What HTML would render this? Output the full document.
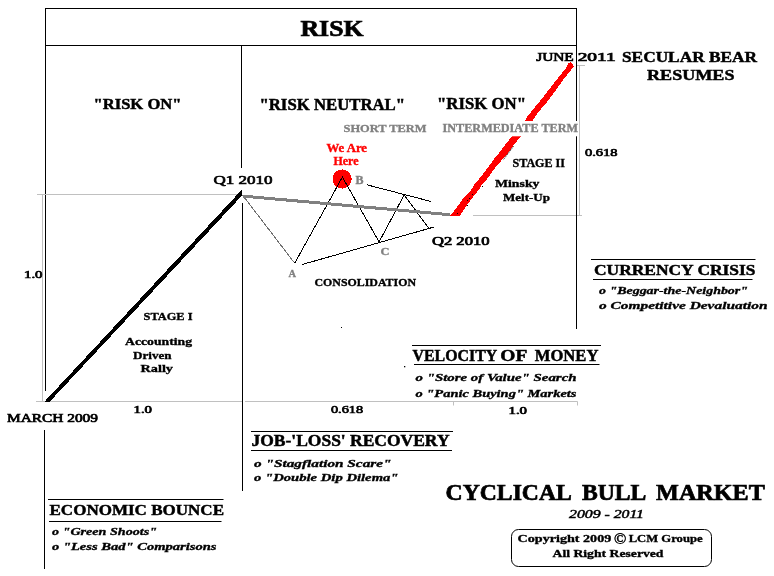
<!DOCTYPE html>
<html><head><meta charset="utf-8"><title>Cyclical Bull Market</title>
<style>
html,body{margin:0;padding:0;background:#fff;width:774px;height:576px;overflow:hidden}
svg{display:block;will-change:transform}
text{font-family:"Liberation Serif",serif}
</style></head>
<body>
<svg width="774" height="576" viewBox="0 0 774 576">
<rect width="774" height="576" fill="#fff"/>
<path d="M42.5 195V401.5" stroke="#c0c0c0" stroke-width="1" fill="none"/>
<path d="M36 401.5H242M245 401.5H577.5V405.5M453.5 402V405.5" stroke="#c0c0c0" stroke-width="1" fill="none"/>
<path d="M576 65.5H585M579.5 66V215M473 215.5H582" stroke="#c0c0c0" stroke-width="1" fill="none"/>
<path d="M45 8.5H577M45 45.5H577M45.5 8V391M576.5 8V329M241.5 45V168M242.5 203V491M44.5 430V569" stroke="#000" stroke-width="1" fill="none"/>
<path d="M37 194.5H241.5" stroke="#c0c0c0" stroke-width="1" fill="none"/>
<path d="M242.6 195.2L294.7 263.2" stroke="#707070" stroke-width="1" fill="none" shape-rendering="crispEdges"/>
<path d="M294.7 263.2L342.4 177.1L379.1 241.9L404.2 194.9L428.5 228" stroke="#000" stroke-width="1" fill="none" shape-rendering="crispEdges"/>
<path d="M366.9 184.8L430.7 201.4M302.2 264.5L433.7 227.1" stroke="#000" stroke-width="1" fill="none" shape-rendering="crispEdges"/>
<path d="M243 196.1L450 214.7" stroke="#808080" stroke-width="3" fill="none" shape-rendering="crispEdges"/>
<polygon points="44.3,401.8 49.6,401.8 242.3,195.3 242.3,189.2" fill="#000" shape-rendering="crispEdges"/>
<polygon points="459.9,215.9 465.1,207.8 470.7,200 478.3,190.4 482.8,183.5 487.2,178.9 495.1,167.8 504.2,157.4 508.9,151.9 513.8,145 521.1,136.1 532.8,120.3 535.6,115.8 541.1,108.9 548.7,100 564.3,78.4 573.7,66.7 572.8,63.8 570.5,62.2 568.3,63.2 567,66.7 557.7,78.4 540.9,100 533.5,108.9 527.9,115.8 525.1,120.3 512.2,136.1 504.9,145 500,151.9 495.1,157.4 487.8,167.8 479.2,178.9 474.9,183.5 471,190.4 462,200 456.5,207.8 450.2,215.9" fill="#ff0000" shape-rendering="crispEdges"/>
<path d="M513.6 146.2L503 160.2" stroke="#000" stroke-width="0.8" stroke-dasharray="1.5 1" fill="none"/>
<rect x="457" y="213" width="1" height="1" fill="#000"/>
<rect x="467" y="200" width="1" height="1" fill="#000"/>
<rect x="469" y="198" width="1" height="1" fill="#000"/>
<rect x="472" y="194" width="1" height="1" fill="#000"/>
<rect x="467" y="205" width="1" height="1" fill="#000"/>
<rect x="482" y="186" width="1" height="1" fill="#000"/>
<circle cx="342.1" cy="179" r="9.6" fill="#ff0000" shape-rendering="crispEdges"/>
<path d="M334 192L342.4 177.1L350.5 191.5" stroke="#000" stroke-width="1" fill="none" shape-rendering="crispEdges"/>
<rect x="440" y="121" width="138" height="15.3" fill="#fff"/>
<path d="M591 259.5H755.5M593 279.5H752.5" stroke="#000" stroke-width="1" fill="none"/>
<path d="M412 345.5H601M414 364.5H599.5" stroke="#000" stroke-width="1" fill="none"/>
<path d="M251 431.5H453M251 450.5H452" stroke="#000" stroke-width="1" fill="none"/>
<path d="M48 499.5H223.5M49 521.5H221.5" stroke="#000" stroke-width="1" fill="none"/>
<rect x="511.5" y="529.5" width="200" height="37" rx="7" ry="7" fill="none" stroke="#000" stroke-width="1"/>
<rect x="341" y="327" width="1" height="1" fill="#000"/>
<rect x="404" y="366" width="1.3" height="1.3" fill="#000"/>
<text x="300.50" y="35.80" font-size="23.82" font-weight="bold" font-style="normal" fill="#000000" stroke="#000000" stroke-width="0.71" textLength="63.00" lengthAdjust="spacingAndGlyphs">RISK</text>
<text x="93.50" y="108.60" font-size="15.42" font-weight="bold" font-style="normal" fill="#000000" stroke="#000000" stroke-width="0.46" textLength="88.00" lengthAdjust="spacingAndGlyphs">&quot;RISK ON&quot;</text>
<text x="259.50" y="109.80" font-size="16.49" font-weight="bold" font-style="normal" fill="#000000" stroke="#000000" stroke-width="0.49" textLength="145.50" lengthAdjust="spacingAndGlyphs">&quot;RISK NEUTRAL&quot;</text>
<text x="437.00" y="108.70" font-size="15.73" font-weight="bold" font-style="normal" fill="#000000" stroke="#000000" stroke-width="0.47" textLength="89.00" lengthAdjust="spacingAndGlyphs">&quot;RISK ON&quot;</text>
<text x="343.50" y="131.60" font-size="11.15" font-weight="bold" font-style="normal" fill="#808080" stroke="#808080" stroke-width="0.33" textLength="83.00" lengthAdjust="spacingAndGlyphs">SHORT TERM</text>
<text x="442.50" y="131.70" font-size="11.45" font-weight="bold" font-style="normal" fill="#808080" stroke="#808080" stroke-width="0.34" textLength="135.50" lengthAdjust="spacingAndGlyphs">INTERMEDIATE TERM</text>
<text x="326.50" y="151.90" font-size="11.91" font-weight="bold" font-style="normal" fill="#ff0000" stroke="#ff0000" stroke-width="0.36" textLength="40.50" lengthAdjust="spacingAndGlyphs">We Are</text>
<text x="333.50" y="164.90" font-size="11.60" font-weight="bold" font-style="normal" fill="#ff0000" stroke="#ff0000" stroke-width="0.35" textLength="25.00" lengthAdjust="spacingAndGlyphs">Here</text>
<text x="355.50" y="183.70" font-size="11.60" font-weight="bold" font-style="normal" fill="#808080" stroke="#808080" stroke-width="0.35" textLength="8.00" lengthAdjust="spacingAndGlyphs">B</text>
<text x="288.50" y="277.40" font-size="10.69" font-weight="bold" font-style="normal" fill="#808080" stroke="#808080" stroke-width="0.32" textLength="7.50" lengthAdjust="spacingAndGlyphs">A</text>
<text x="380.50" y="254.50" font-size="10.53" font-weight="bold" font-style="normal" fill="#808080" stroke="#808080" stroke-width="0.32" textLength="9.00" lengthAdjust="spacingAndGlyphs">C</text>
<text x="512.50" y="166.70" font-size="11.45" font-weight="bold" font-style="normal" fill="#000000" stroke="#000000" stroke-width="0.34" textLength="52.50" lengthAdjust="spacingAndGlyphs">STAGE II</text>
<text x="495.00" y="186.70" font-size="10.99" font-weight="bold" font-style="normal" fill="#000000" stroke="#000000" stroke-width="0.33" textLength="44.50" lengthAdjust="spacingAndGlyphs">Minsky</text>
<text x="503.00" y="200.70" font-size="10.99" font-weight="bold" font-style="normal" fill="#000000" stroke="#000000" stroke-width="0.33" textLength="47.00" lengthAdjust="spacingAndGlyphs">Melt-Up</text>
<text x="536.20" y="60.50" font-size="11.60" font-weight="normal" font-style="normal" fill="#000000" stroke="#000000" stroke-width="0.70" textLength="37.50" lengthAdjust="spacingAndGlyphs">JUNE</text>
<text x="577.70" y="60.50" font-size="11.60" font-weight="normal" font-style="normal" fill="#000000" stroke="#000000" stroke-width="0.70" textLength="38.00" lengthAdjust="spacingAndGlyphs">2011</text>
<text x="622.00" y="61.80" font-size="14.66" font-weight="bold" font-style="normal" fill="#000000" stroke="#000000" stroke-width="0.44" textLength="135.00" lengthAdjust="spacingAndGlyphs">SECULAR BEAR</text>
<text x="647.00" y="80.30" font-size="14.66" font-weight="bold" font-style="normal" fill="#000000" stroke="#000000" stroke-width="0.44" textLength="87.50" lengthAdjust="spacingAndGlyphs">RESUMES</text>
<text x="585.00" y="155.80" font-size="10.84" font-weight="normal" font-style="normal" fill="#000000" stroke="#000000" stroke-width="0.70" textLength="32.50" lengthAdjust="spacingAndGlyphs">0.618</text>
<text x="213.50" y="184.40" font-size="13.13" font-weight="normal" font-style="normal" fill="#000000" stroke="#000000" stroke-width="0.70" textLength="59.00" lengthAdjust="spacingAndGlyphs">Q1 2010</text>
<text x="432.00" y="244.50" font-size="11.60" font-weight="normal" font-style="normal" fill="#000000" stroke="#000000" stroke-width="0.70" textLength="57.50" lengthAdjust="spacingAndGlyphs">Q2 2010</text>
<text x="24.00" y="277.80" font-size="10.84" font-weight="normal" font-style="normal" fill="#000000" stroke="#000000" stroke-width="0.70" textLength="18.50" lengthAdjust="spacingAndGlyphs">1.0</text>
<text x="314.50" y="285.50" font-size="11.30" font-weight="bold" font-style="normal" fill="#000000" stroke="#000000" stroke-width="0.34" textLength="101.50" lengthAdjust="spacingAndGlyphs">CONSOLIDATION</text>
<text x="143.50" y="319.90" font-size="11.30" font-weight="bold" font-style="normal" fill="#000000" stroke="#000000" stroke-width="0.34" textLength="49.00" lengthAdjust="spacingAndGlyphs">STAGE I</text>
<text x="125.00" y="344.70" font-size="10.53" font-weight="bold" font-style="normal" fill="#000000" stroke="#000000" stroke-width="0.32" textLength="67.00" lengthAdjust="spacingAndGlyphs">Accounting</text>
<text x="133.00" y="358.60" font-size="10.53" font-weight="bold" font-style="normal" fill="#000000" stroke="#000000" stroke-width="0.32" textLength="38.50" lengthAdjust="spacingAndGlyphs">Driven</text>
<text x="140.50" y="372.20" font-size="10.53" font-weight="bold" font-style="normal" fill="#000000" stroke="#000000" stroke-width="0.32" textLength="32.50" lengthAdjust="spacingAndGlyphs">Rally</text>
<text x="7.00" y="421.70" font-size="11.91" font-weight="normal" font-style="normal" fill="#000000" stroke="#000000" stroke-width="0.70" textLength="91.00" lengthAdjust="spacingAndGlyphs">MARCH 2009</text>
<text x="133.50" y="412.80" font-size="10.23" font-weight="normal" font-style="normal" fill="#000000" stroke="#000000" stroke-width="0.70" textLength="18.50" lengthAdjust="spacingAndGlyphs">1.0</text>
<text x="331.00" y="413.10" font-size="10.99" font-weight="normal" font-style="normal" fill="#000000" stroke="#000000" stroke-width="0.70" textLength="32.00" lengthAdjust="spacingAndGlyphs">0.618</text>
<text x="508.50" y="413.60" font-size="10.08" font-weight="normal" font-style="normal" fill="#000000" stroke="#000000" stroke-width="0.70" textLength="18.50" lengthAdjust="spacingAndGlyphs">1.0</text>
<text x="594.00" y="274.50" font-size="14.96" font-weight="bold" font-style="normal" fill="#000000" stroke="#000000" stroke-width="0.45" textLength="161.50" lengthAdjust="spacingAndGlyphs">CURRENCY CRISIS</text>
<text x="599.00" y="294.30" font-size="10.99" font-weight="bold" font-style="italic" fill="#000000" stroke="#000000" stroke-width="0.33" textLength="149.00" lengthAdjust="spacingAndGlyphs">o &quot;Beggar-the-Neighbor&quot;</text>
<text x="599.00" y="309.20" font-size="10.99" font-weight="bold" font-style="italic" fill="#000000" stroke="#000000" stroke-width="0.33" textLength="168.50" lengthAdjust="spacingAndGlyphs">o Competitive Devaluation</text>
<text x="412.60" y="361.10" font-size="16.64" font-weight="bold" font-style="normal" fill="#000000" stroke="#000000" stroke-width="0.50" textLength="84.60" lengthAdjust="spacingAndGlyphs">VELOCITY</text>
<text x="500.30" y="361.10" font-size="16.64" font-weight="bold" font-style="normal" fill="#000000" stroke="#000000" stroke-width="0.50" textLength="27.00" lengthAdjust="spacingAndGlyphs">OF</text>
<text x="534.80" y="361.10" font-size="16.64" font-weight="bold" font-style="normal" fill="#000000" stroke="#000000" stroke-width="0.50" textLength="63.60" lengthAdjust="spacingAndGlyphs">MONEY</text>
<text x="415.50" y="381.40" font-size="10.99" font-weight="bold" font-style="italic" fill="#000000" stroke="#000000" stroke-width="0.33" textLength="161.00" lengthAdjust="spacingAndGlyphs">o &quot;Store of Value&quot; Search</text>
<text x="415.50" y="396.50" font-size="10.99" font-weight="bold" font-style="italic" fill="#000000" stroke="#000000" stroke-width="0.33" textLength="161.00" lengthAdjust="spacingAndGlyphs">o &quot;Panic Buying&quot; Markets</text>
<text x="251.50" y="446.20" font-size="16.34" font-weight="bold" font-style="normal" fill="#000000" stroke="#000000" stroke-width="0.49" textLength="198.00" lengthAdjust="spacingAndGlyphs">JOB-'LOSS' RECOVERY</text>
<text x="254.00" y="467.00" font-size="10.99" font-weight="bold" font-style="italic" fill="#000000" stroke="#000000" stroke-width="0.33" textLength="137.50" lengthAdjust="spacingAndGlyphs">o &quot;Stagflation Scare&quot;</text>
<text x="254.00" y="480.90" font-size="10.99" font-weight="bold" font-style="italic" fill="#000000" stroke="#000000" stroke-width="0.33" textLength="144.50" lengthAdjust="spacingAndGlyphs">o &quot;Double Dip Dilema&quot;</text>
<text x="49.50" y="515.00" font-size="15.42" font-weight="bold" font-style="normal" fill="#000000" stroke="#000000" stroke-width="0.46" textLength="174.50" lengthAdjust="spacingAndGlyphs">ECONOMIC BOUNCE</text>
<text x="52.00" y="534.80" font-size="10.99" font-weight="bold" font-style="italic" fill="#000000" stroke="#000000" stroke-width="0.33" textLength="105.00" lengthAdjust="spacingAndGlyphs">o &quot;Green Shoots&quot;</text>
<text x="52.00" y="549.70" font-size="10.99" font-weight="bold" font-style="italic" fill="#000000" stroke="#000000" stroke-width="0.33" textLength="164.50" lengthAdjust="spacingAndGlyphs">o &quot;Less Bad&quot; Comparisons</text>
<text x="445.60" y="499.80" font-size="23.82" font-weight="bold" font-style="normal" fill="#000000" stroke="#000000" stroke-width="0.71" textLength="126.20" lengthAdjust="spacingAndGlyphs">CYCLICAL</text>
<text x="582.00" y="499.80" font-size="23.82" font-weight="bold" font-style="normal" fill="#000000" stroke="#000000" stroke-width="0.71" textLength="64.40" lengthAdjust="spacingAndGlyphs">BULL</text>
<text x="656.10" y="499.80" font-size="23.82" font-weight="bold" font-style="normal" fill="#000000" stroke="#000000" stroke-width="0.71" textLength="108.70" lengthAdjust="spacingAndGlyphs">MARKET</text>
<text x="569.00" y="517.80" font-size="11.60" font-weight="normal" font-style="italic" fill="#000000" stroke="#000000" stroke-width="0.45" textLength="75.00" lengthAdjust="spacingAndGlyphs">2009 - 2011</text>
<text x="517.60" y="542.30" font-size="10.38" font-weight="bold" font-style="normal" fill="#000000" stroke="#000000" stroke-width="0.31" textLength="93.70" lengthAdjust="spacingAndGlyphs">Copyright 2009</text>
<text x="613.90" y="543.90" font-size="14.66" font-weight="normal" font-style="normal" fill="#000000" stroke="#000000" stroke-width="0.40" textLength="12.30" lengthAdjust="spacingAndGlyphs">©</text>
<text x="628.70" y="542.30" font-size="10.38" font-weight="bold" font-style="normal" fill="#000000" stroke="#000000" stroke-width="0.31" textLength="73.90" lengthAdjust="spacingAndGlyphs">LCM Groupe</text>
<text x="552.50" y="556.70" font-size="10.99" font-weight="bold" font-style="normal" fill="#000000" stroke="#000000" stroke-width="0.33" textLength="111.00" lengthAdjust="spacingAndGlyphs">All Right Reserved</text>
</svg>
</body></html>
